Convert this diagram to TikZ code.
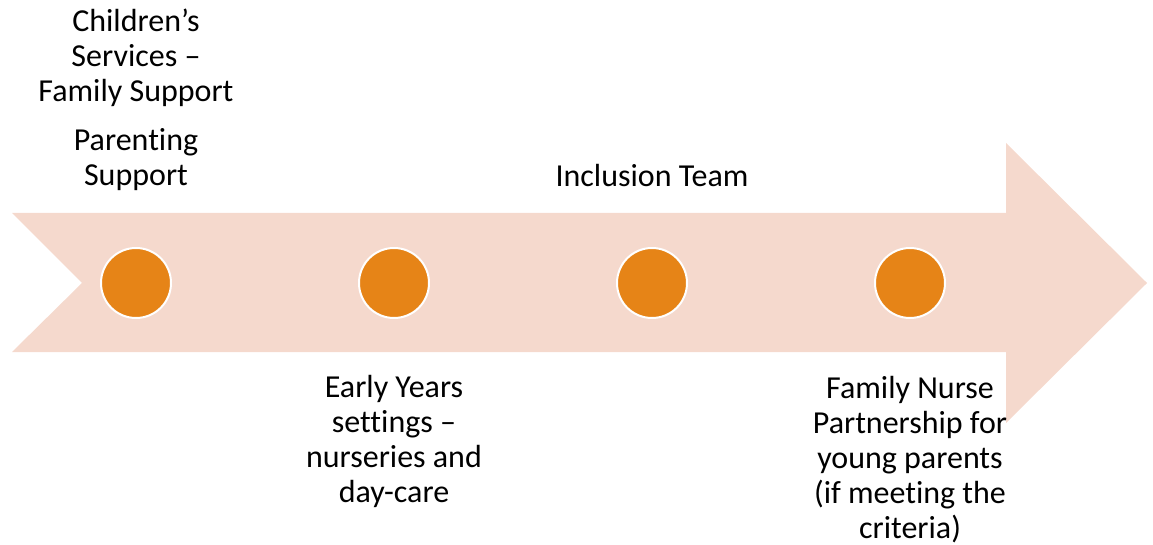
\documentclass[tikz,border=0pt]{standalone}
\usepackage{fontspec}
\setmainfont{Carlito}[Ligatures=NoCommon]
\definecolor{band_fill}{HTML}{F5D9CD}
\definecolor{dot_fill}{HTML}{E68417}

\begin{document}
\begin{tikzpicture}[x=0.75pt, y=-0.75pt,
   dot_style/.style={circle,draw=white,line width=1.5pt,fill=dot_fill,minimum size=52.5pt,inner sep=0pt},
   label_style/.style={align=center,anchor=base,inner sep=0pt,font=\fontsize{24}{26.25}\selectfont}]

    \useasboundingbox (0,0) rectangle (1153,545);

    \fill[band_fill] (12,213) -- (1006,213) -- (1006,143) -- (1147,283)
        -- (1006,423) -- (1006,352) -- (12,352) -- (82,283) -- cycle;

    \node[dot_style] (d1) at (136,283) {};
    \node[dot_style] (d2) at (394,283) {};
    \node[dot_style] (d3) at (652,283) {};
    \node[dot_style] (d4) at (910,283) {};

    % base anchor sits on the last line
    \node[label_style] (l1) at (136,102) {Children’s\\Services –\\Family Support};
    \node[label_style] (l2) at (136,186) {Parenting\\Support};
    \node[label_style] (l3) at (652,187) {Inclusion Team};
    \node[label_style] (l4) at (394,502) {Early Years\\settings –\\nurseries and\\day-care};
    \node[label_style] (l5) at (910,538) {Family Nurse\\Partnership for\\young parents\\(if meeting the\\criteria)};
\end{tikzpicture}
\end{document}
